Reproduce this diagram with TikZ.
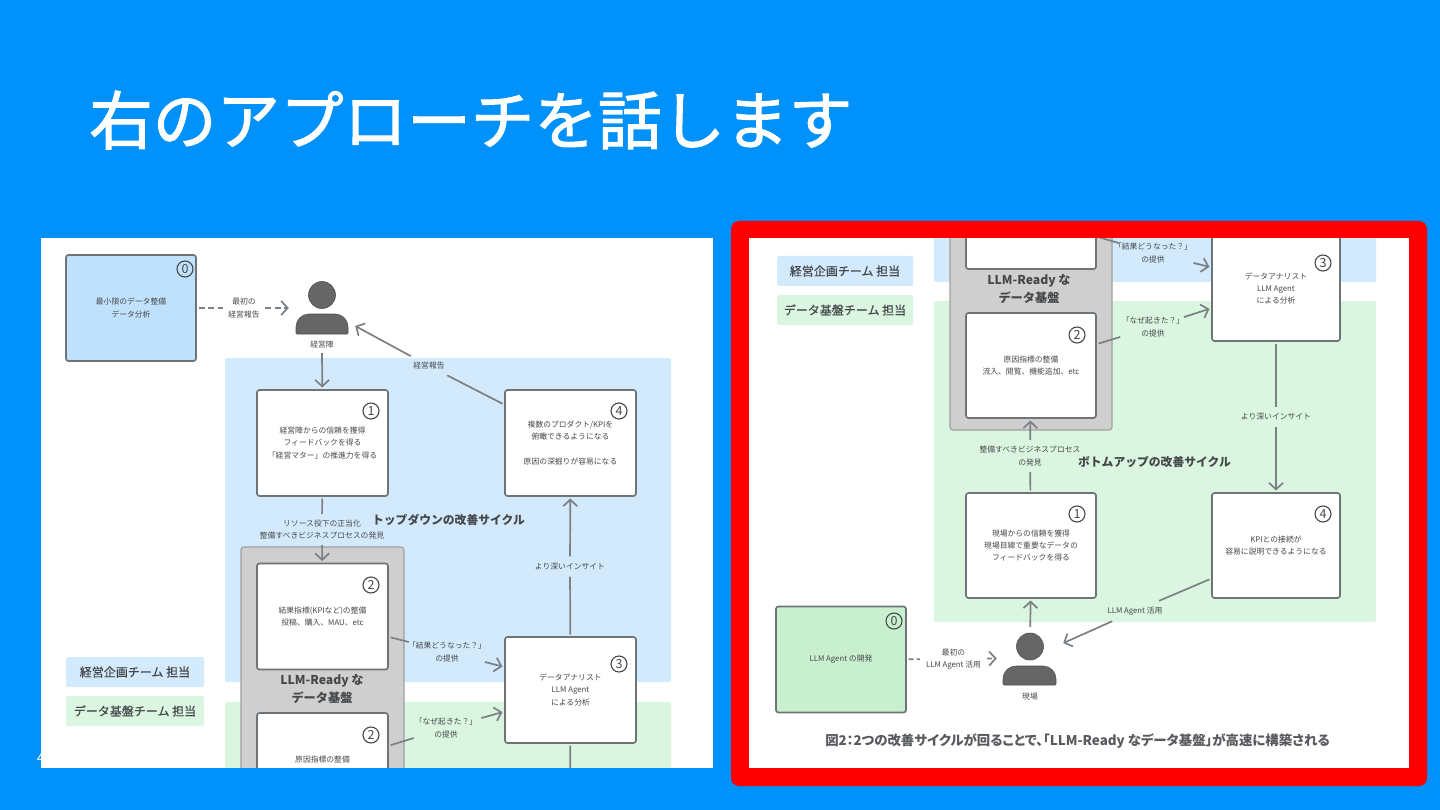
\documentclass[tikz,border=0pt]{standalone}
\usepackage{fontspec}
\setmainfont{Noto Sans CJK JP}
\newfontfamily\titlefont[FakeBold=1.6]{Noto Sans CJK JP}
\newfontfamily\teamfont[FakeBold=0.5]{Noto Sans CJK JP}
\newfontfamily\captionfont[RawFeature=+palt]{Noto Sans CJK JP}
\usetikzlibrary{arrows.meta}
\definecolor{slideblue}{HTML}{0091FB}
\definecolor{framered}{HTML}{FE0000}
\definecolor{topblue}{HTML}{D3EAFD}
\definecolor{botgreen}{HTML}{DBF6E0}
\definecolor{zeroblue}{HTML}{BFE1FB}
\definecolor{zerogreen}{HTML}{C8F0CF}
\definecolor{basegray}{HTML}{CFCFCF}
\definecolor{baseline}{HTML}{A0A0A0}
\definecolor{cellline}{HTML}{6E7478}
\definecolor{connline}{HTML}{7B8084}
\definecolor{persongray}{HTML}{666666}
\definecolor{inktext}{HTML}{45484B}
\begin{document}
\begin{tikzpicture}[x=1pt,y=-1pt,every node/.style={font=\fontsize{7.8}{12.3}\selectfont,text=inktext,align=center}]
\tikzset{cellbox/.style={draw=cellline,fill=white,line width=1.7pt,rounded corners=2.5pt,minimum width=131pt,minimum height=106pt,inner sep=0pt,outer sep=2.5pt},
  numring/.style={circle,draw=inktext,line width=1.1pt,minimum size=16pt,inner sep=0pt,font=\fontsize{12.5}{12.5}\selectfont},
  lab/.style={inner sep=0pt},
  conn/.style={draw=connline,line width=1.7pt},
  connarrow/.style={conn,-{Straight Barb[length=6.5pt,width=14pt]}},
  dashlink/.style={dash pattern=on 6pt off 3.5pt},
  cycletitle/.style={font=\fontsize{11.8}{14}\selectfont\bfseries},
  basetitle/.style={font=\fontsize{12.2}{18}\selectfont\bfseries},
  teamtag/.style={minimum height=30pt,inner sep=0pt,rounded corners=1.5pt,font=\fontsize{12}{14}\selectfont\teamfont},
  personshape/.style={fill=persongray,draw=persongray!80!black,line width=.6pt}}
\fill[slideblue] (0,0) rectangle (1440,810);
\useasboundingbox (0,0) rectangle (1440,810);
\node[text=white,inner sep=0pt,anchor=west,font=\fontsize{63.6}{70}\selectfont\titlefont] (slidetitle) at (89,120) {右のアプローチを話します};
\node[text=white,inner sep=0pt,font=\fontsize{15}{15}\selectfont] (pageno) at (41,758) {4};
\fill[framered,rounded corners=8pt] (731,221) rectangle (1427,786);
\fill[white] (41,238) rectangle (713,768);
\fill[white] (749,238) rectangle (1409,768);
% left picture
\begin{scope}
\clip (41,238) rectangle (713,767.6);
\fill[topblue,rounded corners=1.5pt] (225,358) rectangle (671,682);
\fill[botgreen,rounded corners=1.5pt] (225,702) rectangle (671,1000);
\fill[basegray,draw=baseline,line width=1.2pt,rounded corners=3pt] (241,547) rectangle (404,832);
\node[teamtag,fill=topblue,minimum width=138pt] (planA) at (135,672) {経営企画チーム 担当};
\node[teamtag,fill=botgreen,minimum width=138pt] (dataA) at (135,711) {データ基盤チーム 担当};
\node[cellbox,fill=zeroblue,minimum width=130pt] (zeroA) at (131,308) {最小限のデータ整備\\データ分析};
\node[cellbox] (oneA) at (322.5,443) {経営陣からの信頼を獲得\\フィードバックを得る\\「経営マター」の推進力を得る};
\node[cellbox] (fourA) at (570.5,443) {複数のプロダクト/KPIを\\俯瞰できるようになる\\[12.3pt]原因の深掘りが容易になる};
\node[cellbox] (twoA) at (322.5,616.5) {結果指標(KPIなど)の整備\\投稿、購入、MAU、etc};
\node[cellbox] (whyA) at (322.5,766) {原因指標の整備\\流入、閲覧、機能追加、etc};
\node[cellbox] (threeA) at (570.5,690) {データアナリスト\\LLM Agent\\による分析};
\node[numring] (ringzeroA) at (185,269) {0};
\node[numring] (ringoneA) at (371,411) {1};
\node[numring] (ringfourA) at (619,411) {4};
\node[numring] (ringtwoA) at (371,585) {2};
\node[numring] (ringwhyA) at (371,735) {2};
\node[numring] (ringthreeA) at (619,664) {3};
\node[basetitle] (readyA) at (322,689) {LLM-Ready な\\データ基盤};
\node[cycletitle] (cycleA) at (448.5,520) {トップダウンの改善サイクル};
% person
\node[circle,personshape,minimum size=27pt,inner sep=0pt] (headA) at (322,295) {};
\draw[personshape] (296,334) [rounded corners=13pt] -- (296,314) -- (348,314) [rounded corners=1pt] -- (348,334) -- cycle;
\node[minimum width=66pt,minimum height=56pt,inner sep=0pt] (bossA) at (322,308) {};
\node[lab,minimum height=16pt] (bossnameA) at (322,345) {経営陣};
% connectors
\node[lab,minimum width=42pt] (firstA) at (244,308) {最初の\\経営報告};
\draw[conn,dashlink] (zeroA) -- (firstA);
\draw[connarrow,dashlink] (firstA) -- (bossA);
\draw[connarrow] (bossnameA) -- (oneA);
\node[lab,minimum height=31pt] (resA) at (322,529.5) {リソース投下の正当化\\整備すべきビジネスプロセスの発見};
\draw[conn] (oneA) -- (resA);
\draw[connarrow] (resA) -- (twoA);
\node[lab,minimum width=36pt,minimum height=22pt] (reportA) at (429,366) {経営報告};
\draw[conn] (fourA.150) -- (reportA);
\draw[connarrow] (reportA) -- (bossA);
\node[lab,minimum width=86pt] (resultA) at (447,652) {「結果どうなった？」\\の提供};
\draw[conn] (twoA.-17) -- (resultA);
\draw[connarrow] (resultA) -- (threeA.161);
\node[lab,minimum width=72pt] (causeA) at (446,728) {「なぜ起きた？」\\の提供};
\draw[conn] (whyA.17) -- (causeA);
\draw[connarrow] (causeA) -- (threeA.198);
\node[lab,minimum height=20pt] (deepA) at (570,566.5) {より深いインサイト};
\draw[conn] (threeA) -- (deepA);
\draw[connarrow] (deepA) -- (fourA);
\coordinate (underA) at (570,800);
\draw[conn] (threeA) -- (underA);
\end{scope}
% right picture
\begin{scope}
\clip (749,238.4) rectangle (1409,768);
\fill[topblue,rounded corners=1.5pt] (934,150) rectangle (1376,282);
\fill[botgreen,rounded corners=1.5pt] (934,301) rectangle (1376,622);
\fill[basegray,draw=baseline,line width=1.2pt,rounded corners=3pt] (950,146) rectangle (1112,430);
\node[teamtag,fill=topblue,minimum width=136pt] (planB) at (845,271) {経営企画チーム 担当};
\node[teamtag,fill=botgreen,minimum width=136pt] (dataB) at (845,310) {データ基盤チーム 担当};
\node[cellbox,fill=zerogreen,minimum width=130pt] (zeroB) at (841,659.5) {LLM Agent の開発};
\node[cellbox,minimum width=130pt,minimum height=105pt] (twoB) at (1031,216.5) {};
\node[cellbox,minimum width=130pt,minimum height=105pt] (whyB) at (1031,365.5) {原因指標の整備\\流入、閲覧、機能追加、etc};
\node[cellbox,minimum width=130pt,minimum height=105pt] (oneB) at (1031,545.5) {現場からの信頼を獲得\\現場目線で重要なデータの\\フィードバックを得る};
\node[cellbox,minimum width=128pt,minimum height=105pt] (threeB) at (1276,288.5) {データアナリスト\\LLM Agent\\による分析};
\node[cellbox,minimum width=128pt,minimum height=105pt] (fourB) at (1276,545.5) {KPIとの接続が\\容易に説明できるようになる};
\node[numring] (ringzeroB) at (894,621) {0};
\node[numring] (ringwhyB) at (1077,335) {2};
\node[numring] (ringoneB) at (1077,514) {1};
\node[numring] (ringthreeB) at (1323,263) {3};
\node[numring] (ringfourB) at (1323,514) {4};
\node[basetitle] (readyB) at (1029,289) {LLM-Ready な\\データ基盤};
\node[cycletitle] (cycleB) at (1154.5,462) {ボトムアップの改善サイクル};
% person
\node[circle,personshape,minimum size=27pt,inner sep=0pt] (headB) at (1030,646.5) {};
\draw[personshape] (1003,685) [rounded corners=13pt] -- (1003,666) -- (1056,666) [rounded corners=1pt] -- (1056,685) -- cycle;
\node[minimum width=66pt,minimum height=62pt,inner sep=0pt] (siteB) at (1030,658) {};
\node[lab] (sitenameB) at (1030,697) {現場};
% connectors
\node[lab,minimum width=67pt] (firstB) at (953.5,659) {最初の\\LLM Agent 活用};
\draw[conn,dash pattern=on 5pt off 3pt] (zeroB) -- (firstB);
\draw[connarrow,dash pattern=on 5pt off 3pt] (firstB) -- (siteB);
\draw[connarrow] (siteB) -- (oneB);
\node[lab,minimum height=32pt] (findB) at (1030,456) {整備すべきビジネスプロセス\\の発見};
\draw[conn] (oneB) -- (findB);
\draw[connarrow] (findB) -- (whyB);
\node[lab,minimum width=88pt] (resultB) at (1153,253) {「結果どうなった？」\\の提供};
\draw[conn] (twoB.-17) -- (resultB);
\draw[connarrow] (resultB) -- (threeB.162);
\node[lab,minimum width=72pt] (causeB) at (1153,327) {「なぜ起きた？」\\の提供};
\draw[conn] (whyB.18) -- (causeB);
\draw[connarrow] (causeB) -- (threeB.197);
\node[lab,minimum height=20pt] (deepB) at (1276,417) {より深いインサイト};
\draw[conn] (threeB) -- (deepB);
\draw[connarrow] (deepB) -- (fourB);
\node[lab,minimum height=20pt] (agentB) at (1135,611) {LLM Agent 活用};
\draw[conn] (fourB.207) -- (agentB);
\draw[connarrow] (agentB) -- (siteB);
\node[font=\fontsize{13.4}{16}\selectfont\captionfont\bfseries,text=inktext!90] (captionB) at (1077.5,741) {図2：2つの改善サイクルが回ることで、「LLM-Ready なデータ基盤」が高速に構築される};
\end{scope}
\end{tikzpicture}
\end{document}
